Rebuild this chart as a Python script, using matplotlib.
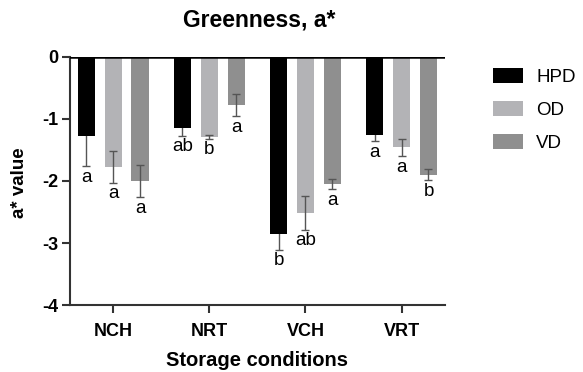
import numpy as np
from matplotlib import pyplot as plt

plt.rcParams['font.family'] = ['Liberation Sans', 'DejaVu Sans']

# data
conditions = ["NCH", "NRT", "VCH", "VRT"]
series = ["HPD", "OD", "VD"]
colors = ["#000000", "#b3b3b6", "#8f8f8f"]

hpd = [-1.27, -1.14, -2.85, -1.26]
od = [-1.77, -1.29, -2.52, -1.46]
vd = [-2.00, -0.78, -2.05, -1.90]
hpd_err = [0.49, 0.13, 0.26, 0.10]
od_err = [0.26, 0.03, 0.27, 0.14]
vd_err = [0.26, 0.18, 0.08, 0.09]
hpd_lab = ["a", "ab", "b", "a"]
od_lab = ["a", "b", "ab", "a"]
vd_lab = ["a", "a", "a", "b"]

values = [hpd, od, vd]
errors = [hpd_err, od_err, vd_err]
letters = [hpd_lab, od_lab, vd_lab]

fig = plt.figure(figsize=(5.83, 3.72), dpi=100)
ax = fig.add_axes([0.120, 0.180, 0.643, 0.667])

x = np.arange(len(conditions))
step = 0.28
width = 0.18

for i in range(len(series)):
    pos = x + (i - 1) * step
    ax.bar(pos, values[i], width, color=colors[i], label=series[i], zorder=2)
    # error bars of the black series sit behind the bar
    ax.errorbar(pos, values[i], yerr=errors[i], fmt="none", ecolor="#555555",
                elinewidth=1.0, capsize=3, capthick=1.0,
                zorder=1 if i == 0 else 3)
    for p, v, e, t in zip(pos, values[i], errors[i], letters[i]):
        ax.text(p, v - e - 0.04, t, ha="center", va="top", fontsize=13.5)

ax.axhline(0, color="black", lw=1.8, zorder=4)

ax.set_xlim(-0.45, 3.45)
ax.set_ylim(-4, 0)
ax.set_yticks([0, -1, -2, -3, -4])
ax.set_yticklabels(["0", "-1", "-2", "-3", "-4"], fontweight="bold", fontsize=13)
ax.set_xticks(x)
ax.set_xticklabels(conditions, fontweight="bold", fontsize=13)

for s in ["top", "right"]:
    ax.spines[s].set_visible(False)
for s in ["left", "bottom"]:
    ax.spines[s].set_linewidth(1.5)
    ax.spines[s].set_color("#333333")
ax.tick_params(axis="both", length=6, width=1.5, color="#333333")
ax.tick_params(axis="x", pad=7)
ax.tick_params(axis="y", pad=2)

fig.text(0.444, 1 - 20 / 372, "Greenness, a*", fontweight="bold", fontsize=16.5,
         ha="center", va="center")
fig.text(0.441, 1 - 360 / 372, "Storage conditions", fontweight="bold", fontsize=14.5,
         ha="center", va="center")
fig.text(19 / 583, 1 - 183 / 372, "a* value", fontweight="bold", fontsize=13.5,
         ha="center", va="center", rotation=90)

fig.legend(loc="upper left", bbox_to_anchor=(0.846, 0.818), frameon=False,
           fontsize=13.5, handlelength=1.6, handleheight=0.85, labelspacing=0.82,
           handletextpad=0.7, borderpad=0, borderaxespad=0)

plt.savefig("out.png", dpi=100)
